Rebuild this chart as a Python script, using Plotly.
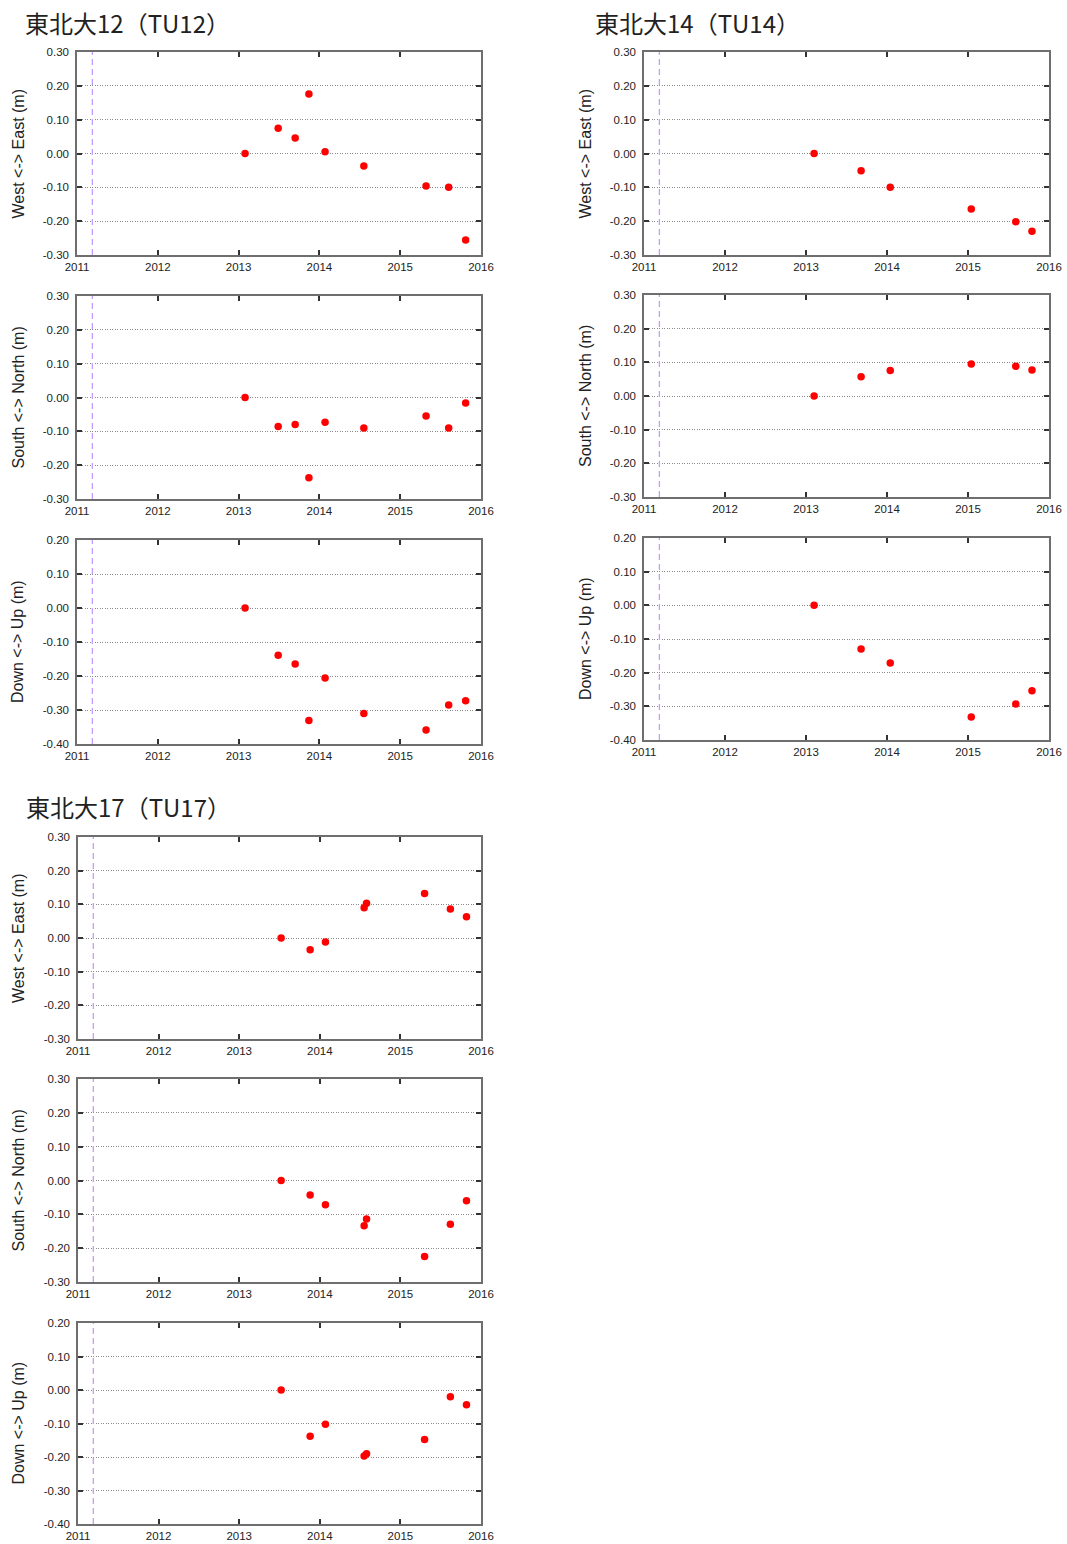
import plotly.graph_objects as go

W, H = 1067, 1544

# ---------------- data ----------------
years = [2011, 2012, 2013, 2014, 2015, 2016]
year_labels = ["2011", "2012", "2013", "2014", "2015", "2016"]
quake_time = 2011.19

tu12_t = [2013.08, 2013.49, 2013.70, 2013.87, 2014.07, 2014.55, 2015.32, 2015.60, 2015.81]
tu12_ew = [0.000, 0.075, 0.046, 0.176, 0.005, -0.037, -0.096, -0.100, -0.256]
tu12_ns = [0.000, -0.086, -0.080, -0.237, -0.073, -0.090, -0.055, -0.090, -0.016]
tu12_ud = [0.000, -0.139, -0.165, -0.331, -0.206, -0.310, -0.359, -0.285, -0.273]

tu14_t = [2013.10, 2013.68, 2014.04, 2015.04, 2015.59, 2015.79]
tu14_ew = [0.000, -0.051, -0.100, -0.164, -0.202, -0.230]
tu14_ns = [0.000, 0.057, 0.076, 0.095, 0.088, 0.077]
tu14_ud = [0.000, -0.130, -0.171, -0.332, -0.293, -0.254]

tu17_t = [2013.52, 2013.88, 2014.07, 2014.55, 2014.58, 2015.30, 2015.62, 2015.82]
tu17_ew = [0.000, -0.035, -0.012, 0.090, 0.103, 0.132, 0.086, 0.063]
tu17_ns = [0.000, -0.043, -0.072, -0.134, -0.114, -0.225, -0.129, -0.060]
tu17_ud = [0.000, -0.138, -0.102, -0.197, -0.190, -0.148, -0.020, -0.044]

titles = ["東北大12（TU12）", "東北大14（TU14）", "東北大17（TU17）"]
ytitles = ["West <-> East (m)", "South <-> North (m)", "Down <-> Up (m)"]
h_ticks = [0.30, 0.20, 0.10, 0.00, -0.10, -0.20, -0.30]
v_ticks = [0.20, 0.10, 0.00, -0.10, -0.20, -0.30, -0.40]
h_range = [-0.30, 0.30]
v_range = [-0.40, 0.20]

# ---------------- layout geometry (pixels) ----------------
stations = [
    dict(t=tu12_t, comps=[tu12_ew, tu12_ns, tu12_ud], x=(77, 481),
         rows=[(52, 255), (296, 499), (540, 744)], title_xy=(23, 22), ytx=18),
    dict(t=tu14_t, comps=[tu14_ew, tu14_ns, tu14_ud], x=(644, 1049),
         rows=[(52, 255), (295, 497), (538, 740)], title_xy=(593, 22), ytx=585),
    dict(t=tu17_t, comps=[tu17_ew, tu17_ns, tu17_ud], x=(78, 481),
         rows=[(837, 1039), (1079, 1282), (1323, 1524)], title_xy=(24, 806), ytx=18),
]

fig = go.Figure()
layout = dict(template="none", width=W, height=H,
              margin=dict(l=0, r=0, t=0, b=0, pad=0, autoexpand=False),
              paper_bgcolor="white", plot_bgcolor="white", showlegend=False,
              font=dict(family="Liberation Sans, Arial", color="#222"))
annotations = []
shapes = []

tick_font = dict(family="Liberation Sans, Arial", size=11.5, color="#222")
idx = 0
for si, st in enumerate(stations):
    x0, x1 = st["x"]
    for ci, (comp, (ytop, ybot)) in enumerate(zip(st["comps"], st["rows"])):
        idx += 1
        xa = "x" if idx == 1 else f"x{idx}"
        ya = "y" if idx == 1 else f"y{idx}"
        fig.add_trace(go.Scatter(x=st["t"], y=comp, mode="markers",
                                 marker=dict(color="#ff0000", size=7.5),
                                 xaxis=xa, yaxis=ya, hoverinfo="x+y"))
        is_v = ci == 2
        yt = v_ticks if is_v else h_ticks
        layout["xaxis" if idx == 1 else f"xaxis{idx}"] = dict(
            domain=[x0 / W, x1 / W], range=[2011, 2016], anchor=ya,
            automargin=False,
            tickmode="array", tickvals=years, ticktext=year_labels,
            ticks="inside", ticklen=5, tickcolor="#333", tickwidth=1.5,
            showline=True, linecolor="#6e6e6e", linewidth=1.5, mirror="ticks",
            showgrid=False, zeroline=False, tickfont=tick_font)
        layout["yaxis" if idx == 1 else f"yaxis{idx}"] = dict(
            domain=[1 - ybot / H, 1 - ytop / H],
            range=v_range if is_v else h_range, anchor=xa,
            automargin=False, ticklabelstandoff=4,
            tickmode="array", tickvals=yt, ticktext=[f"{v:.2f}" for v in yt],
            ticks="inside", ticklen=5, tickcolor="#333", tickwidth=1.5,
            showline=True, linecolor="#6e6e6e", linewidth=1.5, mirror="ticks",
            showgrid=True, gridcolor="#8a8a8a", gridwidth=1, griddash="1px,1.5px",
            zeroline=False, tickfont=tick_font)
        shapes.append(dict(type="line", xref=xa, yref=f"{ya} domain",
                           x0=quake_time, x1=quake_time, y0=0, y1=1,
                           line=dict(color="#c49bff", width=1.3, dash="6px,4px"), layer="above"))
        annotations.append(dict(text=ytitles[ci], xref="paper", yref="paper",
                                x=st["ytx"] / W, y=1 - (ytop + ybot) / 2 / H,
                                textangle=-90, showarrow=False,
                                xanchor="center", yanchor="middle",
                                font=dict(family="Liberation Sans, Arial", size=16, color="#222")))
    tx, ty = st["title_xy"]
    annotations.append(dict(text=titles[si], xref="paper", yref="paper",
                            x=tx / W, y=1 - ty / H, showarrow=False,
                            xanchor="left", yanchor="middle",
                            font=dict(family="Noto Sans CJK JP", size=24, color="#222")))

layout["annotations"] = annotations
layout["shapes"] = shapes
fig.update_layout(**layout)
fig.write_html("out.html", config={"displayModeBar": False},
               post_script="document.body.style.margin='0';document.body.style.padding='0';"
                           "document.documentElement.style.overflow='hidden';")
